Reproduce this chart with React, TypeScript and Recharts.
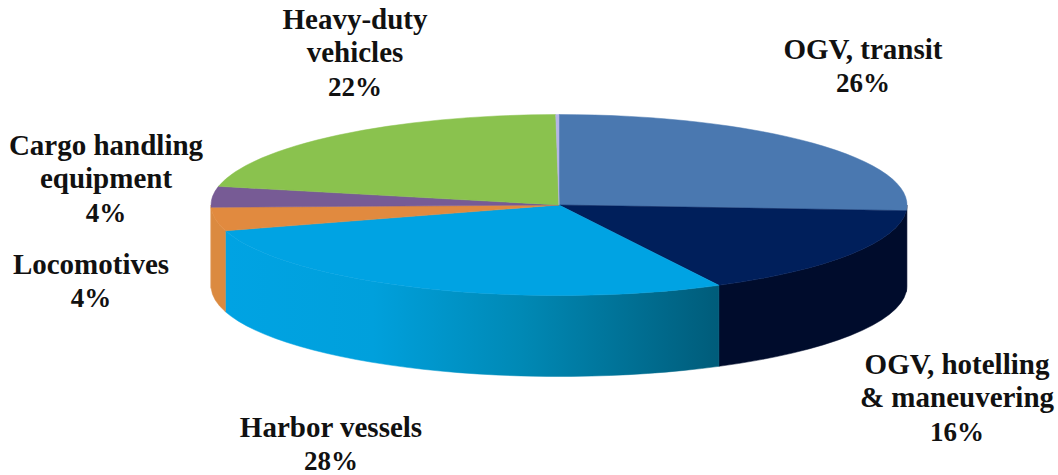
import React from 'react';
import { PieChart, Pie, Cell } from 'recharts';

// sliver at the end is the unlabelled rest seen at 12 o'clock
const categories = ['OGV, transit', 'OGV, hotelling & maneuvering', 'Harbor vessels', 'Locomotives', 'Cargo handling equipment', 'Heavy-duty vehicles', 'Other'];
const shares = [26, 16.4, 28, 4.2, 3.7, 21.55, 0.15];
const shareLabels = ['26%', '16%', '28%', '4%', '4%', '22%', ''];

const topColors = ['#4a78b0', '#001f5b', '#00a3e3', '#e18a3f', '#775b95', '#8ac24e', '#b4b4e6'];
const wallColors = ['#000c2c', '#000c2c', 'url(#harborWall)', '#db8a40', '#db8a40', '#8ac24e', '#b4b4e6'];

// wrapped label lines and where each block sits
const labelLines = [
  ['OGV, transit'],
  ['OGV, hotelling', '& maneuvering'],
  ['Harbor vessels'],
  ['Locomotives'],
  ['Cargo handling', 'equipment'],
  ['Heavy-duty', 'vehicles'],
  [],
];
const labelPos = [
  { x: 863, y: 59 },
  { x: 957, y: 374 },
  { x: 331, y: 437 },
  { x: 91, y: 274 },
  { x: 106, y: 155 },
  { x: 355, y: 29 },
  { x: 0, y: 0 },
];

const data = categories.map((name, i) => ({ name, value: shares[i] }));

const CX = 559;
const CY = 205;
const RX = 348;
const SQUASH = 0.26;
const DEPTH = 81;
const LINE = 33.3;

const pt = (cx: number, cy: number, r: number, deg: number) => {
  const a = (deg * Math.PI) / 180;
  return [cx + r * Math.cos(a), cy - r * SQUASH * Math.sin(a)];
};

const TopSlice = (props: any) => {
  const { cx, cy, outerRadius: r, startAngle, endAngle, fill } = props;
  const [x1, y1] = pt(cx, cy, r, startAngle);
  const [x2, y2] = pt(cx, cy, r, endAngle);
  const large = Math.abs(startAngle - endAngle) > 180 ? 1 : 0;
  const d = `M${cx},${cy} L${x1},${y1} A${r},${r * SQUASH} 0 ${large} 1 ${x2},${y2} Z`;
  return <path d={d} fill={fill} stroke={fill} strokeWidth={0.5} />;
};

// side of the disc, only the part that faces the viewer (lower half of the ellipse)
const WallSlice = (props: any) => {
  const { cx, cy, outerRadius: r, startAngle, endAngle, fill } = props;
  const a1 = Math.min(startAngle, 0);
  const a2 = Math.max(endAngle, -180);
  if (a1 <= a2) return null;
  const [x1, y1] = pt(cx, cy, r, a1);
  const [x2, y2] = pt(cx, cy, r, a2);
  const d = `M${x1},${y1} A${r},${r * SQUASH} 0 0 1 ${x2},${y2} L${x2},${y2 + DEPTH} A${r},${r * SQUASH} 0 0 0 ${x1},${y1 + DEPTH} Z`;
  return <path d={d} fill={fill} stroke={fill} strokeWidth={0.5} />;
};

const renderLabel = ({ index }: any) => {
  const lines = labelLines[index];
  if (!lines.length) return null;
  const { x, y } = labelPos[index];
  return (
    <text x={x} y={y} textAnchor="middle" fontFamily="'Liberation Serif', serif" fontWeight="bold" fontSize={29} fill="#111">
      {lines.map((t, i) => (
        <tspan key={i} x={x} y={y + i * LINE}>{t}</tspan>
      ))}
      <tspan x={x} y={y + lines.length * LINE} fontSize={27}>{shareLabels[index]}</tspan>
    </text>
  );
};

export default function App() {
  return (
    <div style={{ position: 'absolute', left: 0, top: 0, width: 1058, height: 475, background: '#fff' }}>
      <PieChart width={1058} height={475} margin={{ top: 0, right: 0, bottom: 0, left: 0 }}>
        <defs>
          <linearGradient id="harborWall" gradientUnits="userSpaceOnUse" x1={226} y1={0} x2={718} y2={0}>
            <stop offset="0" stopColor="#00a3e3" />
            <stop offset="0.3" stopColor="#00a0dc" />
            <stop offset="0.6" stopColor="#0089b5" />
            <stop offset="1" stopColor="#005c7a" />
          </linearGradient>
        </defs>
        <Pie
          data={data}
          dataKey="value"
          cx={CX}
          cy={CY}
          outerRadius={RX}
          startAngle={90}
          endAngle={-270}
          shape={WallSlice}
          stroke="none"
          isAnimationActive={false}
        >
          {data.map((d, i) => <Cell key={d.name} fill={wallColors[i]} />)}
        </Pie>
        <Pie
          data={data}
          dataKey="value"
          cx={CX}
          cy={CY}
          outerRadius={RX}
          startAngle={90}
          endAngle={-270}
          shape={TopSlice}
          stroke="none"
          label={renderLabel}
          labelLine={false}
          isAnimationActive={false}
        >
          {data.map((d, i) => <Cell key={d.name} fill={topColors[i]} />)}
        </Pie>
      </PieChart>
    </div>
  );
}
